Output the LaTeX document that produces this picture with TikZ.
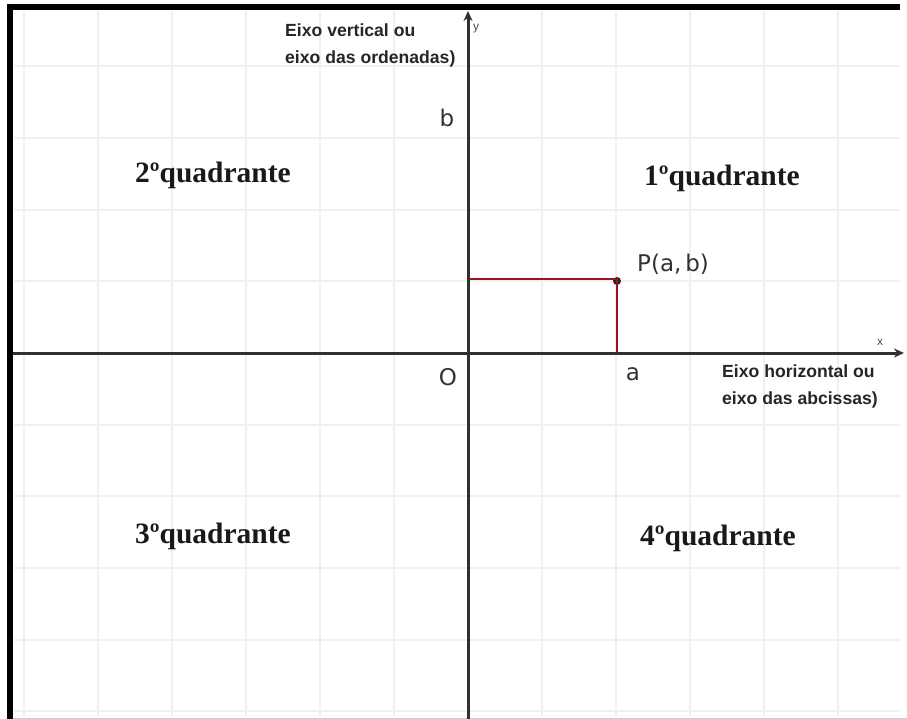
\documentclass[tikz,border=0pt]{standalone}
\usepackage{fontspec}
\setmainfont{Liberation Serif}
\newfontfamily\lblfont{DejaVu Sans}
\newfontfamily\smallfont{Liberation Sans}
\usetikzlibrary{arrows.meta}
\definecolor{gridc}{HTML}{F0F0F0}
\definecolor{axisc}{HTML}{303030}
\definecolor{redc}{HTML}{A01020}
\begin{document}
\begin{tikzpicture}[x=1pt,y=-1pt,
  gridline/.style={draw=gridc,line width=2pt},
  axisline/.style={draw=axisc,line width=3pt,-{Stealth[length=10pt,width=9pt]}},
  redline/.style={draw=redc,line width=1.6pt},
  quad/.style={font=\fontsize{29.5}{34}\selectfont\bfseries,inner sep=0pt,text=black!90},
  axname/.style={font=\smallfont\fontsize{17.6}{27}\selectfont\bfseries,align=left,inner sep=0pt,text=black!85},
  coordlbl/.style={font=\lblfont\fontsize{23}{26}\selectfont,inner sep=0pt,text=black!80},
  smalllbl/.style={font=\smallfont\fontsize{12}{13}\selectfont,inner sep=0pt,text=black!70}]
\useasboundingbox (0,0) rectangle (907,719);
\fill[white] (0,0) rectangle (907,719);
% grid
\foreach \gx in {24,98,172,246,320,394,542,616,690,764,838}
  \draw[gridline] (\gx,11) -- (\gx,716);
\foreach \gy in {66,138,210,281,425,496,568,640,711}
  \draw[gridline] (14,\gy) -- (900,\gy);
% frame
\fill[black] (7,4) rectangle (900,10);
\fill[black] (7,4) rectangle (13,719);
\draw[gray!40,line width=1pt] (13,718) -- (907,718);
% axes
\coordinate (ybot) at (468,719);
\coordinate (ytop) at (468,11);
\coordinate (xleft) at (13,353);
\coordinate (xright) at (904,353);
\coordinate (O) at (468,353);
\coordinate (Py) at (468,279);
\coordinate (Px) at (617,353);
\node[circle,fill=black!85,inner sep=0pt,minimum size=8pt] (P) at (617,281) {};
\draw[redline] (Py) -- (617,279) -- (Px);
\draw[axisline] (ybot) -- (ytop);
\draw[axisline] (xleft) -- (xright);
% labels
\node[smalllbl] (ylbl) at (476,29) {y};
\node[smalllbl] (xlbl) at (880,342) {x};
\node[axname,anchor=base west] (vname) at (285,64) {Eixo vertical ou\\eixo das ordenadas)};
\node[axname,anchor=base west] (hname) at (722,404) {Eixo horizontal ou\\eixo das abcissas)};
\node[coordlbl] (blbl) at (447,118) {b};
\node[coordlbl] (Olbl) at (448,377) {O};
\node[coordlbl] (albl) at (633,374) {a};
\node[coordlbl,anchor=west] (Plbl) at (637,264) {P(a,\,b)};
\node[quad] (q2) at (213,175) {2ºquadrante};
\node[quad] (q1) at (722,178) {1ºquadrante};
\node[quad] (q3) at (213,536) {3ºquadrante};
\node[quad] (q4) at (718,538) {4ºquadrante};
\end{tikzpicture}
\end{document}
